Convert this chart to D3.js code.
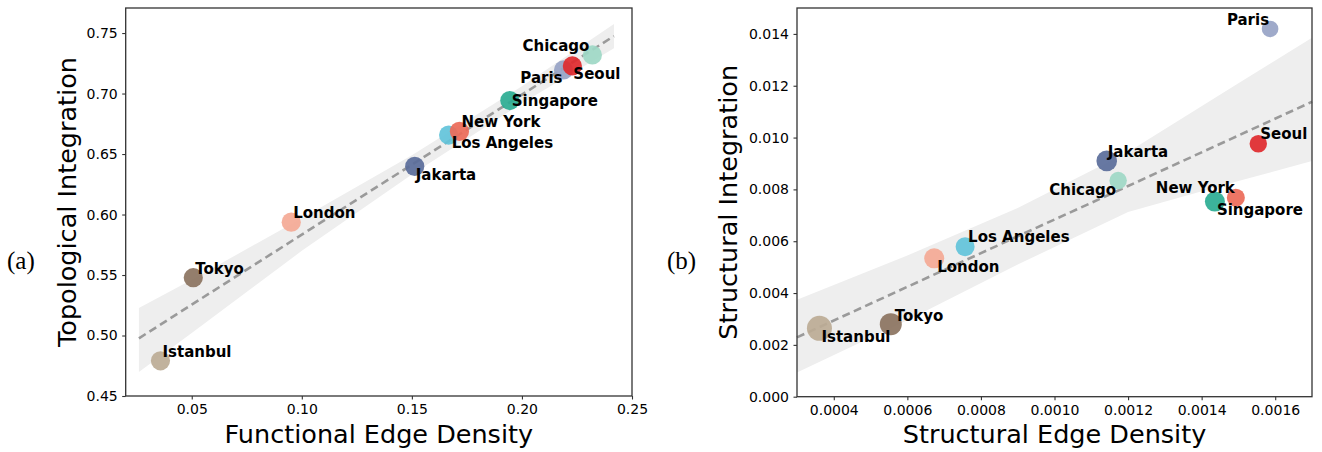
<!DOCTYPE html>
<html>
<head>
<meta charset="utf-8">
<script src="https://cdn.jsdelivr.net/npm/d3@7"></script>
<style>
  body { margin: 0; background: #fff; }
  svg { display: block; font-family: "DejaVu Sans", sans-serif; }
</style>
</head>
<body>
<svg id="chart" width="1322" height="452"></svg>
<script>
// cities, same order in both panels
var cities = ["Istanbul", "Tokyo", "London", "Jakarta", "Los Angeles", "New York", "Singapore", "Paris", "Seoul", "Chicago"];
var cityColors = ["#bcab95", "#8b7360", "#f4a995", "#5a6c9a", "#62c3da", "#ec6a58", "#2bad92", "#97a3c5", "#e0292c", "#9ed8c6"];

// panel (a): functional edge density vs topological integration
var edgeDensityA = [0.0358, 0.0507, 0.0952, 0.1513, 0.1667, 0.1716, 0.1945, 0.2189, 0.2229, 0.2320];
var integrationA = [0.4791, 0.5478, 0.5937, 0.6398, 0.6657, 0.6687, 0.6942, 0.7195, 0.7228, 0.7319];
var fitXA = [0.026, 0.05, 0.10, 0.15, 0.20, 0.2418];
var fitYA = [0.4977, 0.5255, 0.5834, 0.6412, 0.6991, 0.7475];
var fitLoA = [0.4698, 0.502, 0.570, 0.633, 0.692, 0.7374];
var fitHiA = [0.5227, 0.546, 0.597, 0.649, 0.706, 0.7574];
var xTicksA = [0.05, 0.10, 0.15, 0.20, 0.25];
var yTicksA = [0.45, 0.50, 0.55, 0.60, 0.65, 0.70, 0.75];

// panel (b): structural edge density vs structural integration
var edgeDensityB = [0.000361, 0.000555, 0.000673, 0.001142, 0.000757, 0.001493, 0.001436, 0.001586, 0.001554, 0.001173];
var integrationB = [0.00264, 0.00280, 0.00534, 0.00910, 0.00579, 0.00768, 0.00753, 0.01419, 0.00976, 0.00834];
var sizeB = [156, 121, 100, 106, 90, 81, 100, 69, 76, 76];
var fitXB = [0.0003, 0.0006, 0.0009, 0.0012, 0.0015, 0.0017];
var fitYB = [0.00229, 0.00424, 0.00619, 0.00813, 0.01008, 0.01138];
var fitLoB = [0.00093, 0.00295, 0.00510, 0.00713, 0.00832, 0.0091];
var fitHiB = [0.00374, 0.00545, 0.00728, 0.00944, 0.0121, 0.01385];
var xTicksB = [0.0004, 0.0006, 0.0008, 0.0010, 0.0012, 0.0014, 0.0016];
var yTicksB = [0.000, 0.002, 0.004, 0.006, 0.008, 0.010, 0.012, 0.014];

// label placement (dx, dy, anchor) next to each dot
var labelPosA = {
  "Istanbul": [2, -9.5, "start"], "Tokyo": [2, -9, "start"], "London": [2, -10, "start"],
  "Jakarta": [1, 8.5, "start"], "Los Angeles": [3, 8, "start"], "New York": [2, -10, "start"],
  "Singapore": [2, 0, "start"], "Paris": [-1, 8, "end"], "Seoul": [1, 8, "start"], "Chicago": [-3, -9.5, "end"]
};
var labelPosB = {
  "Istanbul": [2, 8.5, "start"], "Tokyo": [4, -9, "start"], "London": [3, 8.5, "start"],
  "Jakarta": [1, -9.5, "start"], "Los Angeles": [3, -10, "start"], "New York": [-1, -10, "end"],
  "Singapore": [2, 8.5, "start"], "Paris": [-1, -9, "end"], "Seoul": [2, -10, "start"], "Chicago": [-2, 9, "end"]
};

var svg = d3.select("#chart");

function drawPanel(p) {
  var g = svg.append("g");

  var x = d3.scaleLinear().domain(p.xDomain).range([p.left, p.right]);
  var y = d3.scaleLinear().domain(p.yDomain).range([p.bottom, p.top]);
  var r = d3.scaleSqrt().domain([0, d3.max(p.size)]).range([0, p.maxR]);

  var pts = cities.map(function(c, i) {
    return {name: c, color: cityColors[i], x: p.xs[i], y: p.ys[i], s: p.size[i]};
  });
  var fit = p.fitX.map(function(v, i) {
    return {x: v, y: p.fitY[i], lo: p.fitLo[i], hi: p.fitHi[i]};
  });

  // confidence band
  g.append("path")
    .datum(fit)
    .attr("fill", "#eeeeee")
    .attr("d", d3.area()
      .x(function(d) { return x(d.x); })
      .y0(function(d) { return y(d.lo); })
      .y1(function(d) { return y(d.hi); }));

  // regression line
  g.append("path")
    .datum(fit)
    .attr("fill", "none")
    .attr("stroke", "#9a9a9a")
    .attr("stroke-width", 2.6)
    .attr("stroke-dasharray", "8,4.5")
    .attr("d", d3.line()
      .x(function(d) { return x(d.x); })
      .y(function(d) { return y(d.y); }));

  // dots
  g.append("g")
    .selectAll("circle")
    .data(pts)
    .enter()
    .append("circle")
      .attr("cx", function(d) { return x(d.x); })
      .attr("cy", function(d) { return y(d.y); })
      .attr("r", function(d) { return r(d.s); })
      .attr("fill", function(d) { return d.color; })
      .attr("fill-opacity", 0.92);

  // city names
  g.append("g")
    .selectAll("text")
    .data(pts)
    .enter()
    .append("text")
      .attr("x", function(d) { return x(d.x) + p.labels[d.name][0]; })
      .attr("y", function(d) { return y(d.y) + p.labels[d.name][1]; })
      .attr("dy", "0.36em")
      .attr("text-anchor", function(d) { return p.labels[d.name][2]; })
      .style("font-size", "15px")
      .style("font-weight", "bold")
      .attr("fill", "#000")
      .text(function(d) { return d.name; });

  // axes
  var xAxis = g.append("g")
    .attr("transform", "translate(0," + p.bottom + ")")
    .call(d3.axisBottom(x).tickValues(p.xTicks).tickFormat(d3.format(p.xFmt))
      .tickSize(3.5).tickPadding(4.5));
  var yAxis = g.append("g")
    .attr("transform", "translate(" + p.left + ",0)")
    .call(d3.axisLeft(y).tickValues(p.yTicks).tickFormat(d3.format(p.yFmt))
      .tickSize(3.5).tickPadding(4.5));
  [xAxis, yAxis].forEach(function(a) {
    a.select(".domain").remove();
    a.selectAll("line").attr("stroke", "#333").attr("stroke-width", 1.1);
    a.selectAll("text")
      .attr("fill", "#000")
      .style("font-size", "14px")
      .style("font-family", "DejaVu Sans, sans-serif");
  });

  // frame
  g.append("rect")
    .attr("x", p.left).attr("y", p.top)
    .attr("width", p.right - p.left).attr("height", p.bottom - p.top)
    .attr("fill", "none")
    .attr("stroke", "#333")
    .attr("stroke-width", 1.3);

  // axis titles
  g.append("text")
    .attr("x", (p.left + p.right) / 2)
    .attr("y", 443)
    .attr("text-anchor", "middle")
    .style("font-size", "25.5px")
    .attr("fill", "#000")
    .text(p.xTitle);
  g.append("text")
    .attr("transform", "translate(" + p.yTitleX + "," + ((p.top + p.bottom) / 2) + ") rotate(-90)")
    .attr("text-anchor", "middle")
    .style("font-size", "25.5px")
    .attr("fill", "#000")
    .text(p.yTitle);

  // panel letter
  g.append("text")
    .attr("x", p.tagX)
    .attr("y", 260)
    .attr("dy", "0.35em")
    .style("font-family", "Liberation Serif, serif")
    .style("font-size", "25px")
    .attr("fill", "#000")
    .text(p.tag);
}

drawPanel({
  left: 125.7, right: 632, top: 8, bottom: 396,
  xDomain: [0.02, 0.25], yDomain: [0.45, 0.7707],
  xs: edgeDensityA, ys: integrationA, size: cities.map(function() { return 1; }), maxR: 9.6,
  fitX: fitXA, fitY: fitYA, fitLo: fitLoA, fitHi: fitHiA,
  xTicks: xTicksA, yTicks: yTicksA, xFmt: ".2f", yFmt: ".2f",
  labels: labelPosA,
  xTitle: "Functional Edge Density", yTitle: "Topological Integration", yTitleX: 76,
  tag: "(a)", tagX: 7
});

drawPanel({
  left: 797, right: 1312, top: 8, bottom: 396.7,
  xDomain: [0.0003, 0.0017], yDomain: [0, 0.015],
  xs: edgeDensityB, ys: integrationB, size: sizeB, maxR: 12.5,
  fitX: fitXB, fitY: fitYB, fitLo: fitLoB, fitHi: fitHiB,
  xTicks: xTicksB, yTicks: yTicksB, xFmt: ".4f", yFmt: ".3f",
  labels: labelPosB,
  xTitle: "Structural Edge Density", yTitle: "Structural Integration", yTitleX: 737,
  tag: "(b)", tagX: 667
});
</script>
</body>
</html>
